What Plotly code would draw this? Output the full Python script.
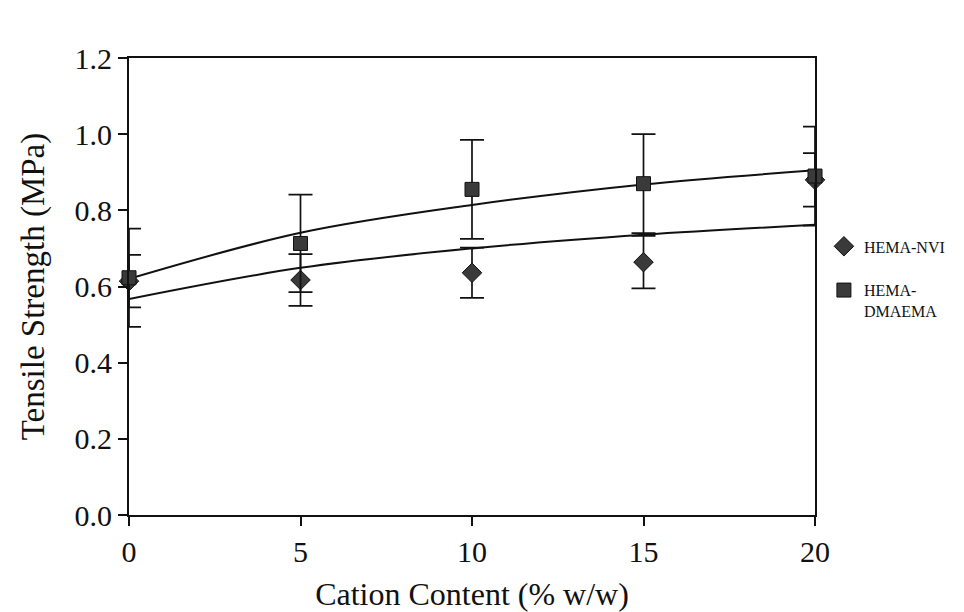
import plotly.graph_objects as go

# Cation content (% w/w)
cation = [0, 5, 10, 15, 20]

# Mean tensile strength (MPa) and standard deviations
nvi_mean = [0.614, 0.617, 0.636, 0.664, 0.880]
nvi_sd = [0.069, 0.068, 0.066, 0.069, 0.070]
dmaema_mean = [0.623, 0.713, 0.855, 0.870, 0.890]
dmaema_sd = [0.129, 0.128, 0.130, 0.130, 0.130]

# Fitted trend curves evaluated at the same cation contents
nvi_trend = [0.567, 0.649, 0.700, 0.736, 0.762]
dmaema_trend = [0.620, 0.741, 0.814, 0.868, 0.905]

y_ticks = [0.0, 0.2, 0.4, 0.6, 0.8, 1.0, 1.2]
x_ticks = [0, 5, 10, 15, 20]

SERIF = "Liberation Serif, Times New Roman, serif"
INK = "#111111"
FILL = "#3a3a3a"

fig = go.Figure()

for trend in (nvi_trend, dmaema_trend):
    fig.add_trace(go.Scatter(
        x=cation, y=trend, mode="lines",
        line=dict(color=INK, width=2, shape="spline", smoothing=1.0),
        showlegend=False, hoverinfo="skip", cliponaxis=False,
    ))

fig.add_trace(go.Scatter(
    x=cation, y=nvi_mean, mode="markers", name="HEMA-NVI",
    legendgroup="nvi",
    marker=dict(symbol="diamond", size=15, color=FILL,
                line=dict(color=INK, width=1)),
    error_y=dict(type="data", array=nvi_sd, visible=True,
                 color=INK, thickness=1.7, width=12),
    cliponaxis=False,
))

fig.add_trace(go.Scatter(
    x=cation, y=dmaema_mean, mode="markers", name="HEMA-<br>DMAEMA",
    legendgroup="dmaema",
    marker=dict(symbol="square", size=14, color=FILL,
                line=dict(color=INK, width=1)),
    error_y=dict(type="data", array=dmaema_sd, visible=True,
                 color=INK, thickness=1.7, width=12),
    cliponaxis=False,
))

axis_common = dict(
    showline=True, linecolor=INK, linewidth=1.8, mirror=True,
    ticks="outside", ticklen=9, tickwidth=1.8, tickcolor=INK,
    showgrid=False, zeroline=False, automargin=False,
    tickfont=dict(family=SERIF, size=30, color=INK),
)

fig.update_layout(
    width=964, height=612,
    margin=dict(l=129, r=149, t=58, b=97),
    paper_bgcolor="white", plot_bgcolor="white",
    font=dict(family=SERIF, color=INK),
    xaxis=dict(
        range=[0, 20], tickvals=x_ticks,
        title=dict(text="Cation Content (% w/w)",
                   font=dict(family=SERIF, size=32, color=INK), standoff=16),
        **axis_common,
    ),
    yaxis=dict(
        range=[0, 1.2], tickvals=y_ticks, tickformat=".1f",
        title=dict(text="Tensile Strength (MPa)",
                   font=dict(family=SERIF, size=33, color=INK), standoff=20),
        **axis_common,
    ),
    legend=dict(
        x=1.013, y=0.625, xanchor="left", yanchor="top",
        font=dict(family=SERIF, size=16, color=INK),
        bgcolor="rgba(0,0,0,0)", tracegroupgap=20,
        traceorder="grouped", valign="top", itemwidth=30,
    ),
)

fig.write_html("out.html")
